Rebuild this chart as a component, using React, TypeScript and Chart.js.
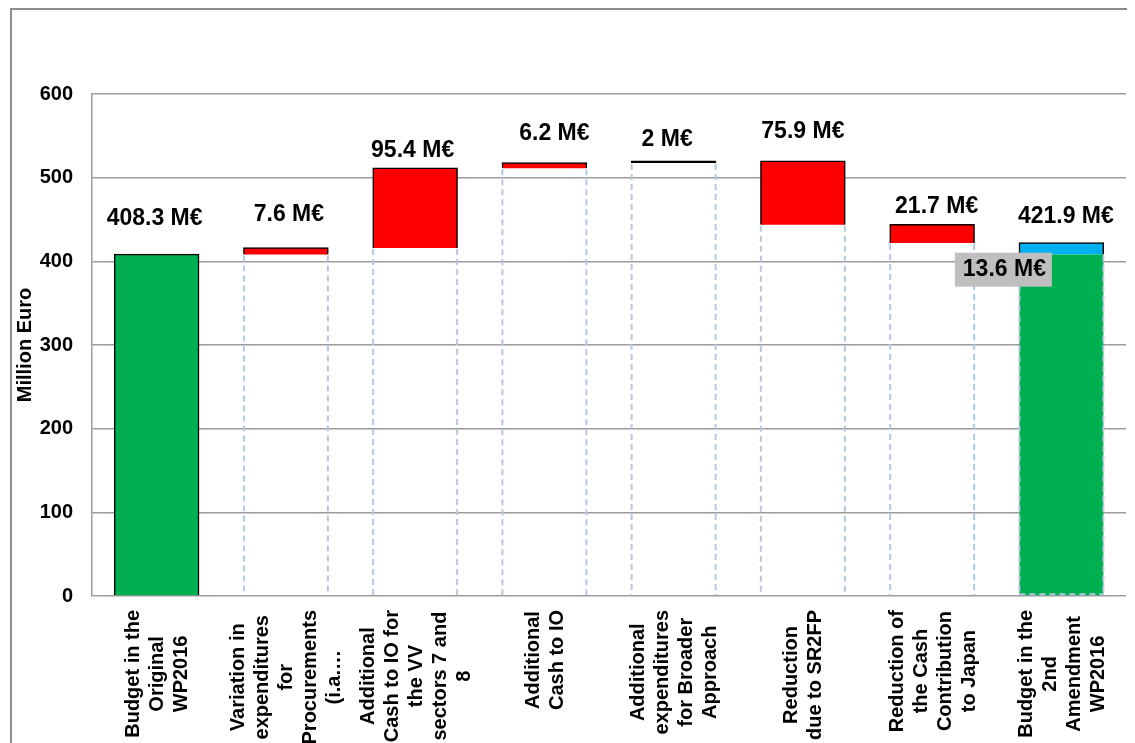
import React, { useEffect, useRef } from "react";
import { Chart, registerables } from "chart.js";

Chart.register(...registerables);

// ---- data ----
const categories: string[][] = [
  ["Budget in the", "Original", "WP2016"],
  ["Variation in", "expenditures", "for", "Procurements", "(i.a.…"],
  ["Additional", "Cash to IO for", "the VV", "sectors 7 and", "8"],
  ["Additional", "Cash to IO"],
  ["Additional", "expenditures", "for Broader", "Approach"],
  ["Reduction", "due to SR2FP"],
  ["Reduction of", "the Cash", "Contribution", "to Japan"],
  ["Budget in the", "2nd", "Amendment", "WP2016"],
];
const baseValues = [0, 408.3, 415.9, 511.3, 517.5, 443.6, 421.9, 408.3];
const changeValues = [408.3, 7.6, 95.4, 6.2, 2, 75.9, 21.7, 13.6];
const yMin = 0;
const yMax = 600;
const yStep = 100;
const axisTitle = "Million Euro";
const unit = "M€";

// ---- styles ----
const FONT = "'Liberation Sans', Arial, Helvetica, sans-serif";
const changeColors = ["#00b050", "#ff0000", "#ff0000", "#ff0000", "#000000", "#ff0000", "#ff0000", "#00b0f0"];
const baseColors = ["rgba(0,0,0,0)", "rgba(0,0,0,0)", "rgba(0,0,0,0)", "rgba(0,0,0,0)", "rgba(0,0,0,0)", "rgba(0,0,0,0)", "rgba(0,0,0,0)", "#00b050"];
const labelDx = [-2, 3, -2.5, 10, -6.5, 0, 4.5, 4.5];
const labelDy = [36, 33, 17.5, 29.5, 22, 30, 18.5, 26.5];
const GRID = "#9c9c9c";

const fmt = (v: number) => `${Number(v.toFixed(1))} ${unit}`;

const overlay = {
  id: "overlay",
  beforeDraw(chart: any) {
    const ctx = chart.ctx;
    ctx.save();
    ctx.fillStyle = "#ffffff";
    ctx.fillRect(0, 0, chart.width, chart.height);
    ctx.strokeStyle = "#8c8c8c";
    ctx.lineWidth = 2;
    ctx.strokeRect(3, 1, chart.width + 50, chart.height + 50);
    ctx.restore();
  },
  afterDatasetsDraw(chart: any) {
    const ctx = chart.ctx;
    const baseMeta = chart.getDatasetMeta(0);
    const chgMeta = chart.getDatasetMeta(1);
    const ys = chart.scales.y;
    const last = baseValues.length - 1;
    ctx.save();
    ctx.strokeStyle = "#b4c7e7";
    ctx.lineWidth = 2;
    ctx.setLineDash([6, 4]);
    baseMeta.data.forEach((el: any, i: number) => {
      if (baseValues[i] <= 0) return;
      const p = el.getProps(["x", "y", "base", "width"], true);
      const l = p.x - p.width / 2;
      const r = p.x + p.width / 2;
      ctx.beginPath();
      ctx.moveTo(l, p.y + 1);
      ctx.lineTo(l, p.base);
      ctx.moveTo(r, p.y + 1);
      ctx.lineTo(r, p.base);
      if (i === last) {
        ctx.moveTo(l, p.base - 1);
        ctx.lineTo(r, p.base - 1);
      }
      ctx.stroke();
    });
    ctx.setLineDash([]);

    // value labels
    ctx.fillStyle = "#000";
    ctx.font = `bold 23px ${FONT}`;
    ctx.textAlign = "center";
    ctx.textBaseline = "middle";
    chgMeta.data.forEach((el: any, i: number) => {
      const total = baseValues[i] + changeValues[i];
      const top = ys.getPixelForValue(total);
      const txt = i === last ? fmt(total) : fmt(changeValues[i]);
      ctx.fillText(txt, el.x + labelDx[i], top - labelDy[i]);
    });

    // boxed change label on the final bar
    const el = chgMeta.data[last];
    const cx = el.x - 58;
    const cy = (el.y + el.base) / 2 + 21;
    ctx.fillStyle = "#bfbfbf";
    ctx.fillRect(cx - 48.5, cy - 17, 97, 34);
    ctx.fillStyle = "#000";
    ctx.fillText(fmt(changeValues[last]), cx + 1, cy);
    ctx.restore();
  },
  afterDraw(chart: any) {
    const ctx = chart.ctx;
    const xs = chart.scales.x;
    ctx.save();
    ctx.fillStyle = "#000";
    ctx.font = `bold 20px ${FONT}`;
    ctx.textAlign = "center";
    ctx.textBaseline = "middle";
    categories.forEach((lines, i) => {
      const px = xs.getPixelForTick(i);
      const maxW = Math.max(...lines.map((s) => ctx.measureText(s).width));
      ctx.save();
      ctx.translate(px + 1, chart.chartArea.bottom + 14 + maxW / 2);
      ctx.rotate(-Math.PI / 2);
      lines.forEach((s, j) => {
        ctx.fillText(s, 0, (j - (lines.length - 1) / 2) * 24);
      });
      ctx.restore();
    });
    ctx.restore();
  },
};

export default function App() {
  const ref = useRef<HTMLCanvasElement | null>(null);
  useEffect(() => {
    document.documentElement.style.overflow = "hidden";
    document.body.style.overflow = "hidden";
    if (!ref.current) return;
    const chart = new Chart(ref.current, {
      type: "bar",
      data: {
        labels: categories.map((c) => c.join(" ")),
        datasets: [
          {
            label: "base",
            data: baseValues,
            backgroundColor: baseColors,
            borderWidth: 0,
            barPercentage: 0.65,
            categoryPercentage: 1,
          },
          {
            label: "change",
            data: changeValues,
            backgroundColor: changeColors,
            borderColor: "#000",
            borderWidth: 1.5,
            inflateAmount: 0.75,
            barPercentage: 0.65,
            categoryPercentage: 1,
          },
        ],
      },
      options: {
        animation: false,
        responsive: false,
        maintainAspectRatio: false,
        layout: { padding: { top: 86, right: 9, left: 0, bottom: 0 } },
        plugins: { legend: { display: false }, tooltip: { enabled: false } },
        scales: {
          x: {
            stacked: true,
            ticks: { display: false },
            grid: { display: false },
            border: { display: false },
            afterFit: (s: any) => {
              s.height = 147;
            },
          },
          y: {
            stacked: true,
            min: yMin,
            max: yMax,
            ticks: {
              stepSize: yStep,
              padding: 19,
              color: "#000",
              font: { family: FONT, size: 20, weight: "bold" },
            },
            grid: { color: GRID, lineWidth: 1.5, drawTicks: false },
            border: { color: GRID, width: 1.5 },
            title: {
              display: true,
              text: axisTitle,
              color: "#000",
              font: { family: FONT, size: 20, weight: "bold" },
              padding: { top: 5, bottom: 0 },
            },
            afterFit: (s: any) => {
              s.width = 84;
            },
          },
        },
      },
      plugins: [overlay],
    });
    return () => chart.destroy();
  }, []);
  return (
    <div style={{ width: 1127, height: 735 }}>
      <canvas ref={ref} width={1127} height={735} style={{ display: "block" }} />
    </div>
  );
}
